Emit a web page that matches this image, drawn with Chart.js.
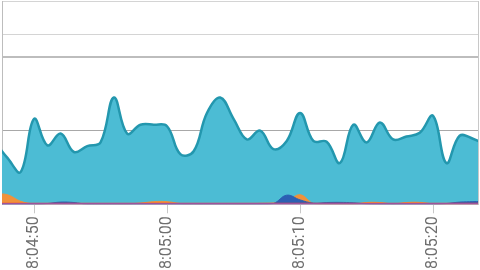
<!DOCTYPE html>
<html>
<head>
<meta charset="utf-8">
<script src="https://cdn.jsdelivr.net/npm/chart.js@4/dist/chart.umd.min.js"></script>
<style>
  html, body { margin: 0; padding: 0; background: #fff; }
  #wrap { position: relative; width: 480px; height: 270px; overflow: hidden; }
  #chart { position: absolute; left: 0; top: 0; }
</style>
</head>
<body>
<div id="wrap"><canvas id="chart" width="480" height="281"></canvas></div>
<script>
// seconds after 18:04:00, one sample per second
const seconds = [47, 48, 49, 50, 51, 52, 53, 54, 55, 56, 57, 58, 59, 60, 61, 62, 63, 64, 65,
  66, 67, 68, 69, 70, 71, 72, 73, 74, 75, 76, 77, 78, 79, 80, 81, 82, 83, 84];

const tealValues = [43, 31.5, 22, 58, 40, 48, 35.5, 39.5, 42, 72.5, 48, 54, 54, 53, 34, 36, 62, 72.5, 58,
  44, 50, 37.5, 43, 62, 43, 42.5, 28, 54, 42, 55.5, 44, 46, 48.5, 60, 28, 46.5, 44.5, 40];
const orangeValues = [7, 6.5, 2, 0.3, 0.3, 0.3, 0.3, 0.3, 0.3, 0.3, 0.3, 0.8, 1.8, 1.8, 0.5, 0.3, 0.3, 0.3, 0.3,
  0.3, 0.6, 0.8, 2, 6.5, 0.5, 0, 0, 0, 1.2, 1.2, 0.3, 1.2, 1.3, 0.3, 0, 0, 0, 0];
const blueValues = [0, 0, 0, 0, 0.5, 1.5, 1.2, 0, 0, 0, 0, 0, 0, 0, 0, 0, 0, 0, 0,
  0, 0, 0.5, 6.2, 3, 0.8, 1.2, 1.3, 1, 0.3, 0, 0, 0, 0, 0, 0.5, 1.5, 1.8, 2];
const redValues = seconds.map(() => 0.6);
const purpleValues = seconds.map(() => 0);

const tickSeconds = [50, 60, 70, 80];
const tickLabels = ['18:04:50', '18:05:00', '18:05:10', '18:05:20'];

// horizontal rules
const ruleValues = [0, 50, 100, 115, 138];

const ctx = document.getElementById('chart').getContext('2d');

function series(values, fillColor, lineColor, width, order) {
  return {
    data: values,
    backgroundColor: fillColor,
    borderColor: lineColor,
    borderWidth: width,
    fill: 'origin',
    tension: 0.4,
    pointRadius: 0,
    order: order
  };
}

const chart = new Chart(ctx, {
  type: 'line',
  data: {
    labels: seconds,
    datasets: [
      series(purpleValues, 'rgba(0,0,0,0)', '#8a58b8', 2, 0),
      series(redValues, 'rgba(0,0,0,0)', '#e8463f', 1.5, 1),
      series(blueValues, '#2c5fb3', '#2c5fb3', 1, 2),
      series(orangeValues, '#f0923b', '#f0923b', 1, 3),
      series(tealValues, '#4cbcd4', '#2397ae', 2.5, 4)
    ]
  },
  options: {
    responsive: false,
    animation: false,
    layout: { padding: { top: 1, left: 2, right: 2, bottom: 0 } },
    plugins: { legend: { display: false }, tooltip: { enabled: false } },
    scales: {
      x: {
        type: 'linear',
        min: 47.59,
        max: 83.38,
        afterBuildTicks: (scale) => {
          scale.ticks = tickSeconds.map(v => ({ value: v }));
        },
        ticks: {
          autoSkip: false,
          minRotation: 90,
          maxRotation: 90,
          color: '#6e6e6e',
          padding: 3,
          font: { family: 'Roboto', size: 16 },
          callback: (value) => tickLabels[tickSeconds.indexOf(value)]
        },
        grid: { drawOnChartArea: false, tickLength: 9, color: '#c8c8c8' },
        border: { color: '#c8c8c8' }
      },
      y: {
        min: 0,
        max: 138,
        afterBuildTicks: (scale) => {
          scale.ticks = ruleValues.map(v => ({ value: v }));
        },
        ticks: { display: false },
        grid: {
          drawTicks: false,
          color: (c) => {
            const v = c.tick.value;
            if (v === 0) return 'rgba(0,0,0,0)';
            if (v === 50) return '#a8a8a8';
            if (v === 100) return '#bdbdbd';
            return '#d4d4d4';
          },
          lineWidth: (c) => (c.tick.value === 100 ? 2 : 1)
        },
        border: { color: '#bdbdbd' }
      },
      yRight: {
        position: 'right',
        display: true,
        ticks: { display: false },
        grid: { display: false, drawTicks: false },
        border: { color: '#c8c8c8' }
      }
    }
  }
});
</script>
</body>
</html>
